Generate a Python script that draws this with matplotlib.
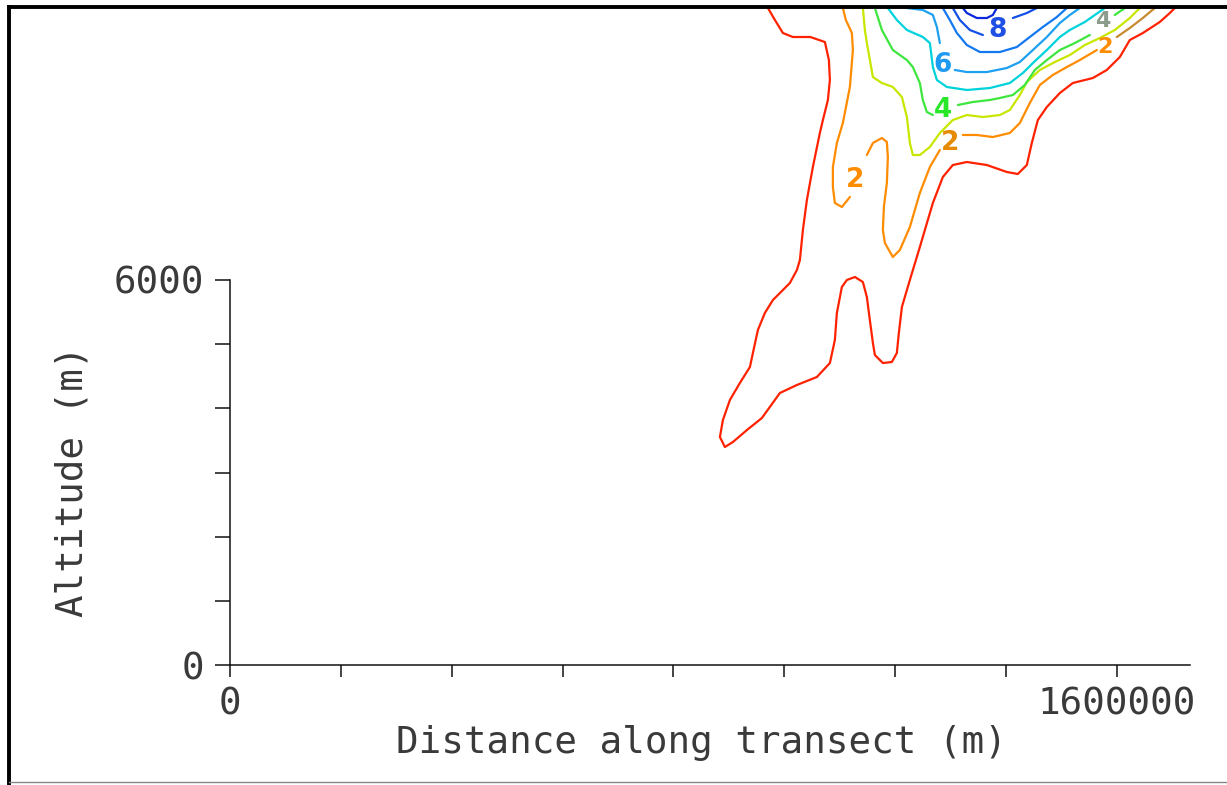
import matplotlib
matplotlib.use("Agg")
import matplotlib.pyplot as plt
from matplotlib.lines import Line2D

# ---------------- data (distance in km, altitude in m) ----------------
x_ticks = [0, 200000, 400000, 600000, 800000, 1000000, 1200000, 1400000, 1600000]
x_tick_labels = ["0", "", "", "", "", "", "", "", "1600000"]
y_ticks = [0, 1000, 2000, 3000, 4000, 5000, 6000]
y_tick_labels = ["0", "", "", "", "", "", "6000"]
x_max = 1732000
y_max = 6000

# level 1 (red)
c1_x = [970.5, 983.1, 997.5, 1015.5, 1047.0, 1073.3, 1080.5, 1082.3, 1078.7, 1069.7, 1064.2, 1051.6,
        1040.8, 1033.6, 1028.2, 1022.8, 1010.1, 979.5, 965.0, 952.4, 943.4, 938.0, 919.9, 901.9,
        889.3, 883.9, 892.9, 907.3, 932.6, 959.6, 992.1, 1022.8, 1058.8, 1082.3, 1091.3, 1094.9,
        1103.9, 1112.9, 1127.4, 1141.8, 1149.0, 1154.4, 1159.9, 1163.5, 1177.9, 1194.1, 1203.1,
        1206.7, 1212.2, 1226.6, 1244.6, 1259.0, 1268.1, 1286.1, 1304.1, 1329.4, 1365.5, 1401.6,
        1421.4, 1437.6, 1446.6, 1457.5, 1473.7, 1497.2, 1520.6, 1556.7, 1581.9, 1605.4, 1623.4,
        1646.9, 1677.5, 1695.6, 1704.6]
c1_y = [10239, 10052, 9849, 9787, 9787, 9709, 9428, 9117, 8805, 8493, 8291, 7761,
        7247, 6779, 6312, 6156, 5953, 5688, 5486, 5221, 4862, 4644, 4395, 4130,
        3818, 3553, 3397, 3475, 3662, 3849, 4239, 4364, 4488, 4706, 5065, 5486,
        5891, 6000, 6047, 5969, 5735, 5376, 5018, 4831, 4706, 4722, 4862,
        5174, 5579, 6000, 6514, 6935, 7200, 7605, 7792, 7839, 7792, 7683,
        7652, 7792, 8135, 8493, 8696, 8914, 9070, 9148, 9273, 9475, 9740,
        9849, 10021, 10161, 10239]

# level 2 (orange), several pieces (gaps hold the labels)
c2a_x = [1105.7, 1111.1, 1122.0, 1123.8, 1118.4, 1105.7, 1094.9, 1087.7, 1087.7, 1091.3, 1103.9, 1118.4]
c2a_y = [10239, 10052, 9849, 9584, 9008, 8447, 8135, 7761, 7449, 7200, 7138, 7293]
c2b_x = [1149.0, 1159.9, 1176.1, 1185.1, 1186.9, 1185.1, 1179.7, 1177.9, 1181.5, 1195.9, 1208.5,
         1226.6, 1244.6, 1262.7, 1280.7]
c2b_y = [7948, 8135, 8213, 8151, 7917, 7512, 7138, 6779, 6577, 6358, 6467,
         6826, 7356, 7761, 8026]
c2c_x = [1322.2, 1347.4, 1376.3, 1407.0, 1425.0, 1443.0, 1461.1, 1484.5, 1509.8, 1533.2, 1563.9]
c2c_y = [8260, 8260, 8228, 8291, 8447, 8758, 9039, 9195, 9319, 9428, 9584]
c2d_x = [1600.0, 1623.4, 1646.9, 1668.5]
c2d_y = [9787, 9927, 10083, 10239]

# level 3 (yellow-green)
c3_x = [1141.8, 1145.4, 1149.0, 1159.9, 1176.1, 1195.9, 1212.2, 1221.2, 1226.6, 1232.0, 1244.6,
        1262.7, 1280.7, 1304.1, 1329.4, 1358.3, 1388.9, 1407.0, 1425.0, 1437.6, 1461.1, 1488.1,
        1515.2, 1542.3, 1569.3, 1596.4, 1623.4, 1641.5]
c3_y = [10239, 9896, 9693, 9163, 9070, 9008, 8852, 8540, 8135, 7948, 7948,
        8073, 8291, 8493, 8571, 8540, 8571, 8649, 8883, 9085, 9273, 9397,
        9506, 9662, 9771, 9896, 10083, 10239]

# level 4 (green)
c4a_x = [1163.5, 1176.1, 1195.9, 1221.2, 1232.0, 1244.6, 1250.0, 1257.2, 1268.1]
c4a_y = [10239, 9896, 9584, 9428, 9319, 9070, 8805, 8618, 8571]
c4b_x = [1313.2, 1340.2, 1370.9, 1388.9, 1412.4, 1434.0, 1452.1, 1473.7, 1497.2, 1524.2, 1551.3]
c4b_y = [8727, 8774, 8805, 8836, 8883, 9039, 9273, 9428, 9584, 9693, 9818]
c4c_x = [1596.4, 1614.4]
c4c_y = [10130, 10239]

# level 5 (cyan)
c5_x = [1186.9, 1203.1, 1221.2, 1250.0, 1262.7, 1268.1, 1275.3, 1293.3, 1329.4, 1370.9, 1407.0,
        1430.4, 1448.5, 1473.7, 1497.2, 1515.2, 1542.3, 1560.3, 1578.3]
c5_y = [10239, 10052, 9896, 9787, 9693, 9319, 9117, 9008, 8961, 8992, 9070,
        9226, 9381, 9584, 9787, 9896, 10021, 10130, 10239]

# level 6 (light blue)
c6a_x = [1221.2, 1250.0, 1268.1, 1275.3, 1280.7]
c6a_y = [10239, 10208, 10130, 9943, 9693]
c6b_x = [1307.7, 1329.4, 1365.5, 1401.6, 1425.0, 1448.5, 1473.7, 1497.2, 1515.2, 1533.2]
c6b_y = [9273, 9241, 9241, 9304, 9397, 9584, 9787, 10005, 10130, 10239]

# level 7 (blue)
c7_x = [1286.1, 1298.7, 1311.4, 1329.4, 1352.9, 1388.9, 1419.6, 1443.0, 1466.5, 1491.7, 1509.8]
c7_y = [10239, 10052, 9849, 9662, 9553, 9553, 9631, 9787, 9943, 10098, 10239]

# level 8 (blue)
c8a_x = [1304.1, 1316.8, 1334.8, 1358.3]
c8a_y = [10239, 10052, 9896, 9818]
c8b_x = [1412.4, 1437.6, 1455.7]
c8b_y = [10083, 10161, 10239]

# level 9 (dark blue)
c9_x = [1322.2, 1329.4, 1347.4, 1365.5, 1376.3, 1383.5]
c9_y = [10239, 10161, 10083, 10083, 10130, 10239]

# contour labels: text, x (km), y (m), size
lab_text = ["2", "2", "2", "4", "4", "6", "8"]
lab_x = [1127.4, 1298.7, 1578.3, 1286.1, 1574.7, 1286.1, 1385.3]
lab_y = [7605, 8182, 9660, 8696, 10060, 9397, 9943]
lab_size = [19, 19, 16, 19, 16, 19, 19]
lab_col = ["#ff8c00", "#e68a00", "#ff8c00", "#28e628", "#8c9c8c", "#1e9bf0", "#1e50e6"]

# ---------------- figure ----------------
W, H = 1227, 785
fig = plt.figure(figsize=(W / 100, H / 100), dpi=100)
ax = fig.add_axes([230 / W, 1 - 665 / H, (1190 - 230) / W, (665 - 280) / H])
ax.set_xlim(0, x_max)
ax.set_ylim(0, y_max)
ax.patch.set_visible(False)

for s in ["top", "right"]:
    ax.spines[s].set_visible(False)
for s in ["left", "bottom"]:
    ax.spines[s].set_linewidth(1.1)
    ax.spines[s].set_color("#111111")

mono = "DejaVu Sans Mono"
tcol = "#3a3a3a"
fs = 27
ax.set_xticks(x_ticks)
ax.set_xticklabels(x_tick_labels, fontfamily=mono, fontsize=fs, color=tcol)
ax.set_yticks(y_ticks)
ax.set_yticklabels(y_tick_labels, fontfamily=mono, fontsize=fs, color=tcol)
ax.tick_params(axis="x", direction="out", length=8.6, width=1.1, pad=7, color="#111111")
ax.tick_params(axis="y", direction="out", length=10.8, width=1.1, pad=8, color="#111111")
for lbl in ax.get_yticklabels():
    lbl.set_verticalalignment("center_baseline")

fig.text(701 / W, 1 - 753 / H, "Distance along transect (m)", ha="center", va="baseline",
         fontfamily=mono, fontsize=fs, color=tcol)
fig.text(73 / W, 1 - 481 / H, "Altitude (m)", ha="center", va="center", rotation=90,
         fontfamily=mono, fontsize=fs, color=tcol)

lw = 1.6
paths = [
    (c1_x, c1_y, "#ff2200"),
    (c2a_x, c2a_y, "#ff8c00"), (c2b_x, c2b_y, "#ff8c00"), (c2c_x, c2c_y, "#ff8c00"), (c2d_x, c2d_y, "#c88a30"),
    (c3_x, c3_y, "#c8e600"),
    (c4a_x, c4a_y, "#3ee63e"), (c4b_x, c4b_y, "#3ee63e"), (c4c_x, c4c_y, "#3ee63e"),
    (c5_x, c5_y, "#00d2dc"),
    (c6a_x, c6a_y, "#1ea0f0"), (c6b_x, c6b_y, "#1ea0f0"),
    (c7_x, c7_y, "#1478f0"),
    (c8a_x, c8a_y, "#1450e6"), (c8b_x, c8b_y, "#1450e6"),
    (c9_x, c9_y, "#0a28dc"),
]
for xs, ys, col in paths:
    ax.plot([v * 1000 for v in xs], ys, color=col, lw=lw, clip_on=False,
            solid_joinstyle="round", solid_capstyle="round")

for t, xv, yv, sz, col in zip(lab_text, lab_x, lab_y, lab_size, lab_col):
    ax.text(xv * 1000, yv, t, color=col, fontsize=sz, fontweight="bold",
            ha="center", va="center_baseline", clip_on=False, fontfamily="DejaVu Sans")

# page frame
fig.add_artist(Line2D([7 / W, 1], [1 - 6.5 / H, 1 - 6.5 / H], transform=fig.transFigure,
                      color="black", lw=2.8, solid_capstyle="butt"))
fig.add_artist(Line2D([8.5 / W, 8.5 / W], [1 - 5 / H, 0], transform=fig.transFigure,
                      color="black", lw=2.8, solid_capstyle="butt"))
fig.add_artist(Line2D([8.5 / W, 1], [1 - 782 / H, 1 - 782 / H], transform=fig.transFigure,
                      color="#888888", lw=1.0))
fig.patches.append(plt.Rectangle((0, 1 - 5 / H), 1, 5 / H, transform=fig.transFigure,
                                 facecolor="white", edgecolor="none", zorder=10, figure=fig))

fig.savefig("out.png", dpi=100)
